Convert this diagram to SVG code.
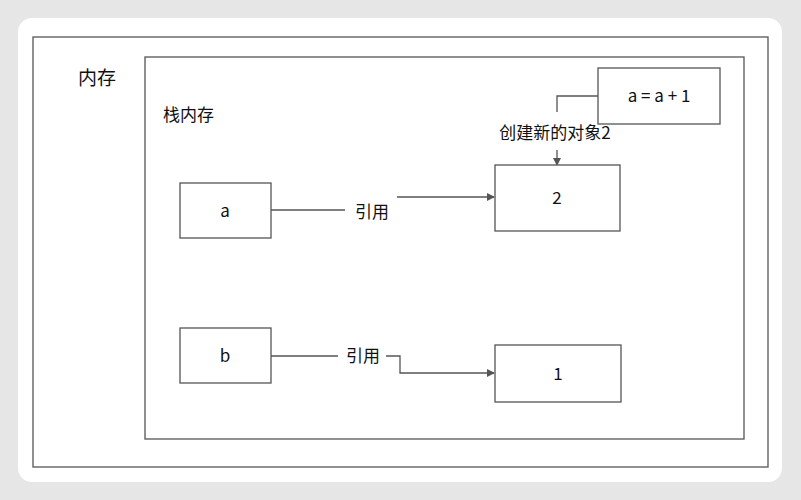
<svg xmlns="http://www.w3.org/2000/svg" width="801" height="500" viewBox="0 0 801 500">
<defs>
<style>
.b{fill:#fff;stroke:#555;stroke-width:1.3}
.l{fill:none;stroke:#555;stroke-width:1.3}
text{font-family:"Noto Sans CJK SC","Noto Sans",sans-serif;fill:#111;font-size:17px}
</style>
<marker id="ar" markerWidth="8" markerHeight="8" refX="7" refY="4" orient="auto" markerUnits="userSpaceOnUse"><path d="M0,0L8,4L0,8z" fill="#555"/></marker>
</defs>
<rect width="801" height="500" fill="#e6e6e6"/>
<rect x="18" y="18" width="764" height="464" rx="14" fill="#fff"/>
<g id="mem"><rect class="b" x="33" y="37" width="735" height="430"/><text x="78" y="85" style="font-size:19px">内存</text></g>
<g id="stack"><rect class="b" x="145" y="57" width="599" height="382"/><text x="163" y="121">栈内存</text></g>
<g id="connectors">
<path class="l" d="M271,210H345"/>
<path class="l" d="M397,197H494" marker-end="url(#ar)"/>
<path class="l" d="M271,356H338"/>
<path class="l" d="M386,356H400V373H494" marker-end="url(#ar)"/>
<path class="l" d="M598,96H557V112"/>
<path class="l" d="M557,150V165" marker-end="url(#ar)"/>
<text x="372" y="218" text-anchor="middle">引用</text>
<text x="363" y="362" text-anchor="middle">引用</text>
<text x="555" y="139" text-anchor="middle">创建新的对象2</text>
</g>
<g id="a"><rect class="b" x="180" y="183" width="91" height="55"/><text x="225" y="217" text-anchor="middle">a</text></g>
<g id="n2"><rect class="b" x="495" y="165" width="125" height="66"/><text x="557" y="204" text-anchor="middle">2</text></g>
<g id="b"><rect class="b" x="180" y="328" width="91" height="55"/><text x="225" y="362" text-anchor="middle">b</text></g>
<g id="n1"><rect class="b" x="495" y="345" width="126" height="57"/><text x="558" y="380" text-anchor="middle">1</text></g>
<g id="op"><rect class="b" x="598" y="68" width="122" height="56"/><text x="659" y="102" text-anchor="middle">a = a + 1</text></g>
</svg>
